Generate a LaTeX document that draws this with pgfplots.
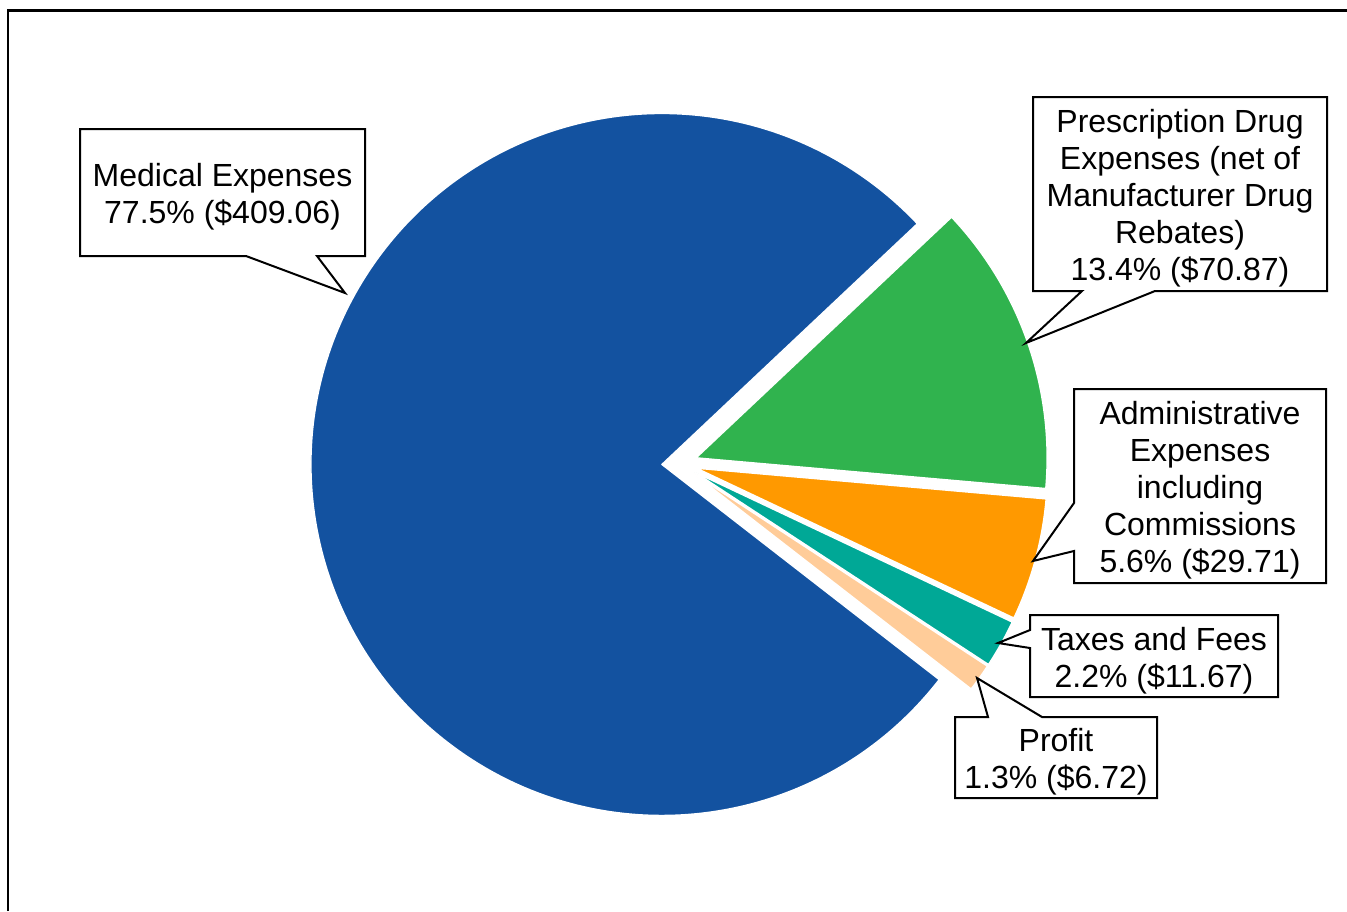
\documentclass[border=0pt]{standalone}
\usepackage{pgfplots}
\usepackage{pgfplotstable}
\pgfplotsset{compat=1.18}
\usepackage{fontspec}
\setmainfont{Liberation Sans}
\definecolor{cBlue}{RGB}{19,82,160}
\definecolor{cGreen}{RGB}{48,179,78}
\definecolor{cOrange}{RGB}{255,153,0}
\definecolor{cTeal}{RGB}{0,168,150}
\definecolor{cPeach}{RGB}{255,204,153}

% slices in clockwise order, starting at 43.3 degrees
\pgfplotstableread[col sep=comma]{
label,value,color
Prescription,70.87,cGreen
Administrative,29.71,cOrange
Taxes,11.67,cTeal
Profit,6.72,cPeach
Medical,409.06,cBlue
}\piedata

\begin{document}
\begin{tikzpicture}
\begin{axis}[
  x=0.5pt, y=0.5pt, y dir=reverse,
  xmin=0, xmax=1347, ymin=0, ymax=911,
  hide axis, clip=false,
]
\draw[line width=1.4pt] (axis cs:8,911) -- (axis cs:8,10.5) -- (axis cs:1347,10.5);
\pgfplotsextra{
  \pgfplotstablegetrowsof{\piedata}\pgfmathtruncatemacro\lastrow{\pgfplotsretval-1}
  \def\tot{0}
  \foreach \i in {0,...,\lastrow}{
    \pgfplotstablegetelem{\i}{value}\of{\piedata}
    \pgfmathsetmacro\newtot{\tot+\pgfplotsretval}
    \xdef\tot{\newtot}
  }
  \gdef\curang{43.3}
  \foreach \i in {0,...,\lastrow}{
    \pgfplotstablegetelem{\i}{value}\of{\piedata}\let\v\pgfplotsretval
    \pgfplotstablegetelem{\i}{color}\of{\piedata}\edef\c{\pgfplotsretval}
    \pgfmathsetmacro\sweep{\v/\tot*360}
    \pgfmathsetmacro\endang{\curang-\sweep}
    \pgfmathsetmacro\midang{(\curang+\endang)/2}
    \path (axis cs:679.5,463.6) ++(\midang:8.8pt) coordinate (apex);
    \filldraw[fill=\c, draw=white, line width=0.7pt, line join=round]
      (apex) -- ++(\curang:175.5pt) arc[start angle=\curang, end angle=\endang, radius=175.5pt] -- cycle;
    \xdef\curang{\endang}
  }
}
\tikzset{callout/.style={draw=black, fill=white, line width=1pt, line join=miter}}
\tikzset{lbl/.style={align=center, font=\fontsize{16pt}{18.5pt}\selectfont, inner sep=0pt}}
% Medical
\draw[callout] (axis cs:80,129) -- (axis cs:365,129) -- (axis cs:365,256) -- (axis cs:317,256) -- (axis cs:345,293) -- (axis cs:246,256) -- (axis cs:80,256) -- cycle;
\node[lbl] at (axis cs:222.5,196.5) {Medical Expenses\\77.5\% (\$409.06)};
% Prescription
\draw[callout] (axis cs:1033,97) -- (axis cs:1327,97) -- (axis cs:1327,291) -- (axis cs:1155,291) -- (axis cs:1026,343) -- (axis cs:1082,291) -- (axis cs:1033,291) -- cycle;
\node[lbl] at (axis cs:1180,198.5) {Prescription Drug\\Expenses (net of\\Manufacturer Drug\\Rebates)\\13.4\% (\$70.87)};
% Administrative
\draw[callout] (axis cs:1074,389) -- (axis cs:1326,389) -- (axis cs:1326,583) -- (axis cs:1074,583) -- (axis cs:1074,551) -- (axis cs:1033,561) -- (axis cs:1074,503) -- cycle;
\node[lbl] at (axis cs:1200,490.5) {Administrative\\Expenses\\including\\Commissions\\5.6\% (\$29.71)};
% Taxes
\draw[callout] (axis cs:1030,615) -- (axis cs:1278,615) -- (axis cs:1278,697) -- (axis cs:1030,697) -- (axis cs:1030,648) -- (axis cs:998,643) -- (axis cs:1030,630) -- cycle;
\node[lbl] at (axis cs:1154,660.5) {Taxes and Fees\\2.2\% (\$11.67)};
% Profit
\draw[callout] (axis cs:955,717) -- (axis cs:988,717) -- (axis cs:977,678) -- (axis cs:1042,717) -- (axis cs:1157,717) -- (axis cs:1157,798) -- (axis cs:955,798) -- cycle;
\node[lbl] at (axis cs:1056,761.5) {Profit\\1.3\% (\$6.72)};
\end{axis}
\pgfresetboundingbox
\path (current axis.south west) rectangle (current axis.north east);
\end{tikzpicture}
\end{document}
